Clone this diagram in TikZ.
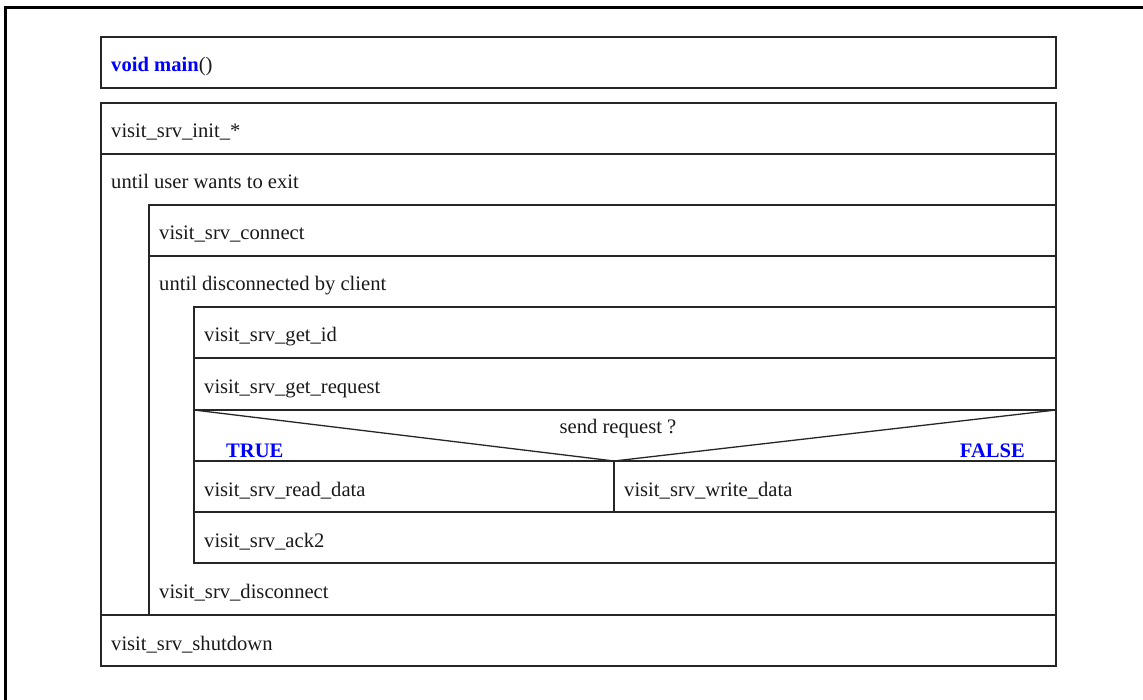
\documentclass[tikz,border=0pt]{standalone}
\usepackage{fontspec}
\setmainfont{Liberation Serif}
\begin{document}
\begin{tikzpicture}[x=1pt,y=-1pt,
  frame/.style={line width=3pt, draw=black},
  grid/.style={line width=1.3pt, draw=black!85},
  lbl/.style={anchor=base west, inner sep=0pt, text=black!90,
    font=\fontsize{20.6}{24}\selectfont},
  kw/.style={lbl, text=blue, font=\fontsize{20.6}{24}\selectfont\bfseries}]
\useasboundingbox (0,0) rectangle (1143,700);

% outer frame (only top and left edges fall inside the page)
\draw[frame] (5,710) -- (5,8) -- (1150,8);

% function header
\draw[grid] (101,37) rectangle (1056,88);

% structogram body
\draw[grid] (101,103) rectangle (1056,666);
\draw[grid] (101,154) -- (1056,154);
\draw[grid] (149,205) rectangle (1056,615);
\draw[grid] (101,615) -- (149,615);
\draw[grid] (149,256) -- (1056,256);
\draw[grid] (194,307) rectangle (1056,563);
\draw[grid] (194,358) -- (1056,358);
\draw[grid] (194,410) -- (1056,410);
\draw[grid] (194,461) -- (1056,461);
\draw[grid] (194,512) -- (1056,512);
\draw[grid] (614,461) -- (614,512);
% decision triangle
\coordinate (split) at (614,461);
\draw[grid] (194,410) -- (split) -- (1056,410);

% texts
\node[lbl] (main) at (111,72) {{\color{blue}\bfseries void main}()};
\node[lbl] (init) at (111,138) {visit\_srv\_init\_*};
\node[lbl] (loopuser) at (111,189) {until user wants to exit};
\node[lbl] (connect) at (159,240) {visit\_srv\_connect};
\node[lbl] (loopclient) at (159,291) {until disconnected by client};
\node[lbl] (getid) at (204,342) {visit\_srv\_get\_id};
\node[lbl] (getreq) at (204,393) {visit\_srv\_get\_request};
\node[lbl, anchor=base] (cond) at (618,433) {send request ?};
\node[kw] (true) at (226,457) {TRUE};
\node[kw, anchor=base east] (false) at (1025,457) {FALSE};
\node[lbl] (read) at (204,496) {visit\_srv\_read\_data};
\node[lbl] (write) at (624,496) {visit\_srv\_write\_data};
\node[lbl] (ack) at (204,547) {visit\_srv\_ack2};
\node[lbl] (disc) at (159,598) {visit\_srv\_disconnect};
\node[lbl] (shutdown) at (111,650) {visit\_srv\_shutdown};
\end{tikzpicture}
\end{document}
